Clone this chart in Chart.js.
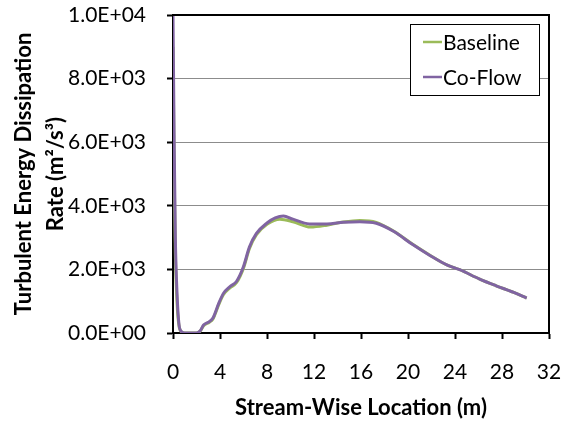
<!DOCTYPE html>
<html>
<head>
<meta charset="utf-8">
<script src="https://cdn.jsdelivr.net/npm/chart.js@4"></script>
<style>
  html, body { margin: 0; padding: 0; background: #fff; }
  #wrap { width: 565px; height: 421px; }
</style>
</head>
<body>
<div id="wrap"><canvas id="chartCanvas" width="565" height="421"></canvas></div>
<script>
// stream-wise location (m) and dissipation rate (m2/s3)
const coflowX = [0, 0.1, 0.2, 0.35, 0.5, 0.7, 1.0, 1.5, 2.0, 2.3, 2.6, 3.1, 3.4, 3.9, 4.3, 4.85, 5.4, 6.0, 6.5, 7.1, 8.0, 8.7, 9.4, 10.2, 11.6, 13.1, 14.5, 15.9, 17.3, 18.8, 20.4, 21.9, 23.3, 24.4, 26.1, 27.5, 29.0, 30.1];
const coflowY = [10000, 6000, 3000, 1200, 300, 50, 0, 0, 0, 60, 250, 360, 470, 940, 1250, 1460, 1620, 2090, 2700, 3130, 3460, 3620, 3680, 3580, 3430, 3430, 3480, 3500, 3450, 3190, 2780, 2430, 2140, 1990, 1695, 1485, 1275, 1100];
const baseX = [0, 0.1, 0.2, 0.35, 0.5, 0.7, 1.0, 1.5, 2.0, 2.3, 2.6, 3.1, 3.4, 3.9, 4.3, 4.85, 5.4, 6.0, 6.5, 7.1, 8.0, 9.1, 10.2, 11.7, 13.1, 14.5, 15.9, 17.3, 18.8, 20.4, 21.9, 23.3, 24.4, 26.1, 27.5, 29.0, 30.1];
const baseY = [9000, 5000, 2500, 900, 250, 40, 0, 0, 0, 50, 230, 340, 440, 900, 1210, 1420, 1580, 2040, 2650, 3090, 3420, 3580, 3500, 3330, 3390, 3490, 3540, 3480, 3200, 2790, 2440, 2140, 1990, 1695, 1485, 1275, 1100];
const seriesNames = ["Baseline", "Co-Flow"];
const seriesColors = ["#9BBB59", "#8064A2"];
const xTicks = [0, 4, 8, 12, 16, 20, 24, 28, 32];
const yTicks = [0, 2000, 4000, 6000, 8000, 10000];

const FONT = "Lato, 'Open Sans', sans-serif";

function pts(xs, ys) { return xs.map((x, i) => ({ x: x, y: ys[i] })); }

function sci(v) {
    if (v === 0) return "0.0E+00";
    const e = Math.floor(Math.log10(Math.abs(v)));
    const m = v / Math.pow(10, e);
    return m.toFixed(1) + "E+" + String(e).padStart(2, "0");
}

const boxAndLegend = {
    id: "boxAndLegend",
    afterDatasetsDraw(chart) {
        const ctx = chart.ctx, a = chart.chartArea;
        ctx.save();
        ctx.strokeStyle = "#000";
        ctx.lineWidth = 2;
        ctx.beginPath();
        ctx.moveTo(a.left, a.top);
        ctx.lineTo(a.right, a.top);
        ctx.lineTo(a.right, a.bottom);
        ctx.stroke();

        // legend box
        const lx = 410, ly = 24, lw = 129, lh = 71;
        ctx.fillStyle = "#fff";
        ctx.fillRect(lx, ly, lw, lh);
        ctx.lineWidth = 1;
        ctx.strokeRect(lx + 0.5, ly + 0.5, lw, lh);
        ctx.font = "21px " + FONT;
        ctx.textBaseline = "middle";
        seriesNames.forEach((n, i) => {
            const yy = 42 + i * 35;
            ctx.strokeStyle = seriesColors[i];
            ctx.lineWidth = 2.5;
            ctx.beginPath();
            ctx.moveTo(423, yy);
            ctx.lineTo(442, yy);
            ctx.stroke();
            ctx.fillStyle = "#000";
            ctx.fillText(n, 443, yy + 1);
        });
        ctx.restore();
    }
};

new Chart(document.getElementById("chartCanvas").getContext("2d"), {
    type: "scatter",
    data: {
        datasets: [
            { label: seriesNames[0], data: pts(baseX, baseY), borderColor: seriesColors[0], showLine: true, pointRadius: 0, borderWidth: 3, cubicInterpolationMode: "monotone", order: 2 },
            { label: seriesNames[1], data: pts(coflowX, coflowY), borderColor: seriesColors[1], showLine: true, pointRadius: 0, borderWidth: 3, cubicInterpolationMode: "monotone", order: 1 }
        ]
    },
    options: {
        responsive: false,
        animation: false,
        layout: { padding: { left: 0, top: 15, right: 16, bottom: 0 } },
        plugins: { legend: { display: false }, tooltip: { enabled: false } },
        scales: {
            x: {
                type: "linear", min: 0, max: 32,
                afterBuildTicks: s => { s.ticks = xTicks.map(v => ({ value: v })); },
                afterFit: s => { s.height = 88; s.paddingLeft = 0; s.paddingRight = 0; },
                grid: { drawOnChartArea: false, tickLength: 6, tickColor: "#000", tickWidth: 2 },
                border: { color: "#000", width: 2 },
                ticks: { color: "#000", font: { family: FONT, size: 21 }, padding: 21, maxRotation: 0 },
                title: { display: true, text: "Stream-Wise Location (m)", color: "#000", font: { family: FONT, size: 22, weight: "bold" }, padding: { top: 0, bottom: 0 } }
            },
            y: {
                type: "linear", min: 0, max: 10000,
                afterBuildTicks: s => { s.ticks = yTicks.map(v => ({ value: v })); },
                afterFit: s => { s.width = 173; s.paddingTop = 0; s.paddingBottom = 0; },
                grid: { color: "#8c8c8c", lineWidth: 1, tickLength: 6, tickColor: "#000", tickWidth: 2 },
                border: { color: "#000", width: 2 },
                ticks: { color: "#000", font: { family: FONT, size: 21 }, padding: 21, callback: v => sci(v) },
                title: { display: true, text: ["Turbulent Energy Dissipation", "Rate (m²/s³)"], color: "#000", font: { family: FONT, size: 22, weight: "bold", lineHeight: 1.45 }, padding: { top: 8, bottom: 0 } }
            }
        }
    },
    plugins: [boxAndLegend]
});
</script>
</body>
</html>
